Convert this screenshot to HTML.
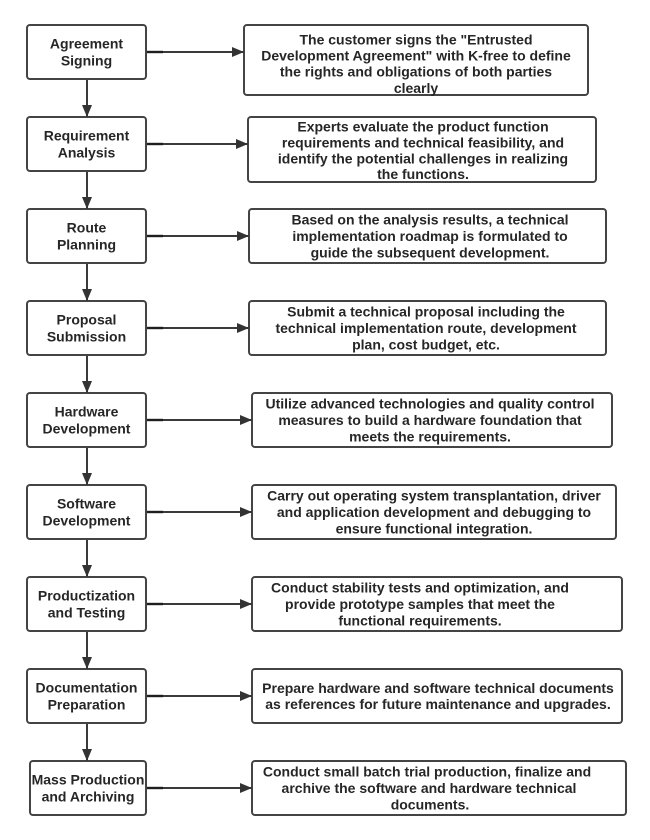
<!DOCTYPE html>
<html><head><meta charset="utf-8"><style>
html,body{margin:0;padding:0;background:#fff;}
svg{display:block;}
text{font-family:"Liberation Sans",Arial,sans-serif;font-weight:bold;font-size:14px;fill:#262626;}
</style></head><body>
<svg width="650" height="840" viewBox="0 0 650 840" xmlns="http://www.w3.org/2000/svg">
<defs>
<marker id="ah" markerWidth="12" markerHeight="10" refX="12" refY="5" orient="auto" markerUnits="userSpaceOnUse">
<path d="M0,0 L12,5 L0,10 Z" fill="#333"/>
</marker>
</defs>
<g fill="#fff" stroke="#444" stroke-width="2">
<rect x="27" y="25" width="119" height="54" rx="3"/>
<rect x="27" y="117" width="119" height="54" rx="3"/>
<rect x="27" y="209" width="119" height="54" rx="3"/>
<rect x="27" y="301" width="119" height="54" rx="3"/>
<rect x="27" y="393" width="119" height="54" rx="3"/>
<rect x="27" y="485" width="119" height="54" rx="3"/>
<rect x="27" y="577" width="119" height="54" rx="3"/>
<rect x="27" y="669" width="119" height="54" rx="3"/>
<rect x="30" y="761" width="116" height="54" rx="3"/>
<rect x="244" y="25" width="344" height="70" rx="3"/>
<rect x="248" y="117" width="348" height="65" rx="3"/>
<rect x="249" y="209" width="357" height="54" rx="3"/>
<rect x="249" y="301" width="357" height="54" rx="3"/>
<rect x="252" y="393" width="360" height="54" rx="3"/>
<rect x="252" y="485" width="364" height="54" rx="3"/>
<rect x="252" y="577" width="370" height="54" rx="3"/>
<rect x="252" y="669" width="370" height="54" rx="3"/>
<rect x="252" y="761" width="374" height="54" rx="3"/>
</g>
<g stroke="#3a3a3a" stroke-width="2" fill="none">
<line x1="147" y1="52" x2="244" y2="52" marker-end="url(#ah)"/>
<line x1="147" y1="144" x2="248" y2="144" marker-end="url(#ah)"/>
<line x1="147" y1="236" x2="249" y2="236" marker-end="url(#ah)"/>
<line x1="147" y1="328" x2="249" y2="328" marker-end="url(#ah)"/>
<line x1="147" y1="420" x2="252" y2="420" marker-end="url(#ah)"/>
<line x1="147" y1="512" x2="252" y2="512" marker-end="url(#ah)"/>
<line x1="147" y1="604" x2="252" y2="604" marker-end="url(#ah)"/>
<line x1="147" y1="696" x2="252" y2="696" marker-end="url(#ah)"/>
<line x1="147" y1="788" x2="252" y2="788" marker-end="url(#ah)"/>
<line x1="87" y1="80" x2="87" y2="117" marker-end="url(#ah)"/>
<line x1="87" y1="172" x2="87" y2="209" marker-end="url(#ah)"/>
<line x1="87" y1="264" x2="87" y2="301" marker-end="url(#ah)"/>
<line x1="87" y1="356" x2="87" y2="393" marker-end="url(#ah)"/>
<line x1="87" y1="448" x2="87" y2="485" marker-end="url(#ah)"/>
<line x1="87" y1="540" x2="87" y2="577" marker-end="url(#ah)"/>
<line x1="87" y1="632" x2="87" y2="669" marker-end="url(#ah)"/>
<line x1="87" y1="724" x2="87" y2="761" marker-end="url(#ah)"/>
</g>
<g stroke="#1e1e1e" stroke-width="2.4">
<line x1="147" y1="52" x2="163" y2="52"/>
<line x1="147" y1="144" x2="163" y2="144"/>
<line x1="147" y1="236" x2="163" y2="236"/>
<line x1="147" y1="328" x2="163" y2="328"/>
<line x1="147" y1="420" x2="163" y2="420"/>
<line x1="147" y1="512" x2="163" y2="512"/>
<line x1="147" y1="604" x2="163" y2="604"/>
<line x1="147" y1="696" x2="163" y2="696"/>
<line x1="147" y1="788" x2="163" y2="788"/>
</g>
<g text-anchor="middle">
<text x="86.5" y="48.7">Agreement</text><text x="86.5" y="65.3">Signing</text>
<text x="86.5" y="140.7">Requirement</text><text x="86.5" y="157.3">Analysis</text>
<text x="86.5" y="232.7">Route</text><text x="86.5" y="249.3">Planning</text>
<text x="86.5" y="324.7">Proposal</text><text x="86.5" y="341.3">Submission</text>
<text x="86.5" y="416.7">Hardware</text><text x="86.5" y="433.3">Development</text>
<text x="86.5" y="508.7">Software</text><text x="86.5" y="525.3">Development</text>
<text x="86.5" y="600.7">Productization</text><text x="86.5" y="617.3">and Testing</text>
<text x="86.5" y="692.7">Documentation</text><text x="86.5" y="709.3">Preparation</text>
<text x="88" y="784.7">Mass Production</text><text x="88" y="801.3">and Archiving</text>

<text x="416" y="44.5">The customer signs the "Entrusted</text>
<text x="416" y="60.5">Development Agreement" with K-free to define</text>
<text x="416" y="76.5">the rights and obligations of both parties</text>
<text x="416" y="93">clearly</text>

<text x="423" y="131.5">Experts evaluate the product function</text>
<text x="423" y="147.5">requirements and technical feasibility, and</text>
<text x="423" y="163.5">identify the potential challenges in realizing</text>
<text x="423" y="179">the functions.</text>

<text x="430" y="224.5">Based on the analysis results, a technical</text>
<text x="430" y="241">implementation roadmap is formulated to</text>
<text x="430" y="257.5">guide the subsequent development.</text>

<text x="426" y="316.5">Submit a technical proposal including the</text>
<text x="426" y="333">technical implementation route, development</text>
<text x="426" y="349.5">plan, cost budget, etc.</text>

<text x="430" y="408.5">Utilize advanced technologies and quality control</text>
<text x="430" y="425">measures to build a hardware foundation that</text>
<text x="430" y="441.5">meets the requirements.</text>

<text x="434" y="500.5">Carry out operating system transplantation, driver</text>
<text x="434" y="517">and application development and debugging to</text>
<text x="434" y="533.5">ensure functional integration.</text>

<text x="420" y="592.5">Conduct stability tests and optimization, and</text>
<text x="420" y="609">provide prototype samples that meet the</text>
<text x="420" y="625.5">functional requirements.</text>

<text x="438" y="693">Prepare hardware and software technical documents</text>
<text x="438" y="709">as references for future maintenance and upgrades.</text>

<text x="427" y="776.5">Conduct small batch trial production, finalize and</text>
<text x="429" y="793">archive the software and hardware technical</text>
<text x="430" y="809.5">documents.</text>
</g>
</svg>
</body></html>
